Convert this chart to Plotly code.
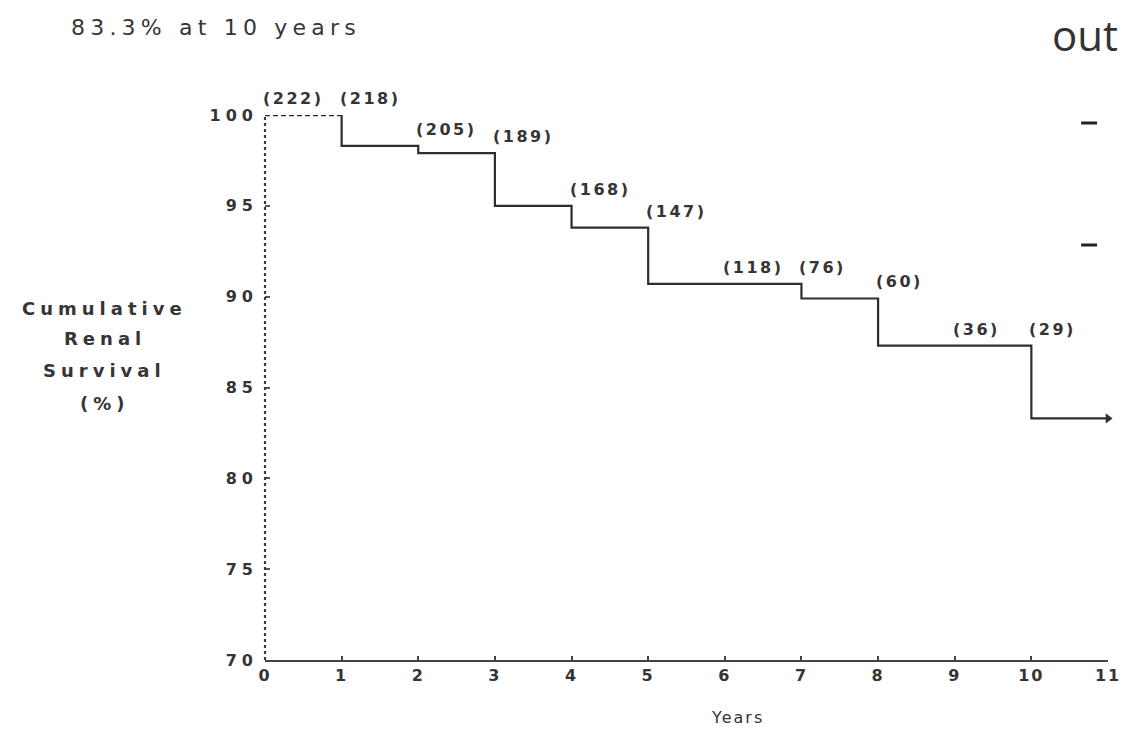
import plotly.graph_objects as go

# Kaplan-Meier style cumulative renal survival
years = [0, 1, 2, 3, 4, 5, 7, 8, 10, 11]
survival = [100, 98.3, 97.9, 95.0, 93.8, 90.7, 89.9, 87.3, 83.3, 83.3]

# patients at risk at the start of each year
risk_years = [0, 1, 2, 3, 4, 5, 6, 7, 8, 9, 10]
at_risk = [222, 218, 205, 189, 168, 147, 118, 76, 60, 36, 29]

x_ticks = list(range(0, 12))
y_ticks = [70, 75, 80, 85, 90, 95, 100]

title_text = "83.3% at 10 years"
y_title_lines = ["Cumulative", "Renal", "Survival", "(%)"]
x_title = "Years"

INK = "#353535"
FONT = "DejaVu Sans"

# plot area in pixels (used to place free text in paper coordinates)
L, R, T, B = 265, 21, 115, 70
W, H = 1133, 730
PW, PH = W - L - R, H - T - B


def px_x(p):
    return (p - L) / PW


def px_y(p):
    return (H - B - p) / PH


def wide(text, spacing):
    return f'<span style="letter-spacing:{spacing}px">{text}</span>'


def level_before(t):
    """Survival on the interval that ends at time t (left limit)."""
    val = survival[0]
    for xv, sv in zip(years, survival):
        if xv < t:
            val = sv
    return val


fig = go.Figure()

# first year drawn dashed, rest of the curve solid
fig.add_trace(go.Scatter(
    x=years[:2], y=survival[:1] * 2, mode="lines",
    line=dict(color="#2a2a2a", width=2.6, dash="5px,3px"),
    hoverinfo="skip", showlegend=False, cliponaxis=False,
))
fig.add_trace(go.Scatter(
    x=[years[1]] + years[1:], y=[survival[0]] + survival[1:],
    mode="lines", line_shape="hv",
    line=dict(color="#2e2e2e", width=2.2),
    hoverinfo="skip", showlegend=False, cliponaxis=False,
))
# arrowhead on the last (censored) segment
fig.add_trace(go.Scatter(
    x=[years[-1]], y=[survival[-1]], mode="markers",
    marker=dict(symbol="triangle-right", size=9, color="#2e2e2e"),
    hoverinfo="skip", showlegend=False, cliponaxis=False,
))

annotations = []
for t, n in zip(risk_years, at_risk):
    annotations.append(dict(
        x=t, y=level_before(t), xref="x", yref="y",
        text=wide(f"({n})", 2.5), showarrow=False,
        xanchor="left", yanchor="bottom", xshift=-4, yshift=5,
        font=dict(family=FONT, size=16, color=INK, weight="bold"),
    ))

annotations.append(dict(
    x=px_x(68), y=px_y(28), xref="paper", yref="paper",
    text=wide(title_text, 5.2), showarrow=False,
    xanchor="left", yanchor="middle",
    font=dict(family=FONT, size=22, color=INK),
))

for line, py in zip(y_title_lines, [308, 338, 370, 403]):
    annotations.append(dict(
        x=px_x(104), y=px_y(py), xref="paper", yref="paper",
        text=wide(line, 5), showarrow=False,
        xanchor="center", yanchor="middle",
        font=dict(family=FONT, size=18, color=INK, weight="bold"),
    ))

annotations.append(dict(
    x=px_x(740), y=px_y(717), xref="paper", yref="paper",
    text=wide(x_title, 2), showarrow=False,
    xanchor="center", yanchor="middle",
    font=dict(family=FONT, size=16, color=INK),
))

annotations.append(dict(
    x=px_x(1054), y=px_y(34), xref="paper", yref="paper",
    text="out", showarrow=False, xanchor="left", yanchor="middle",
    font=dict(family="Open Sans", size=42, color="#333333"),
))

shapes = [
    # dotted vertical axis along the left edge of the plot area
    dict(type="line", xref="paper", yref="paper", x0=0, x1=0, y0=0, y1=1,
         line=dict(color="#3a3a3a", width=2.2, dash="3px,3px")),
    # bullet dashes at the right edge
    dict(type="line", xref="paper", yref="paper", x0=px_x(1085), x1=px_x(1101),
         y0=px_y(123), y1=px_y(123), line=dict(color="#222222", width=3)),
    dict(type="line", xref="paper", yref="paper", x0=px_x(1085), x1=px_x(1101),
         y0=px_y(245), y1=px_y(245), line=dict(color="#222222", width=3)),
]

fig.update_layout(
    width=W, height=H,
    margin=dict(l=L, r=R, t=T, b=B),
    paper_bgcolor="white", plot_bgcolor="white",
    annotations=annotations, shapes=shapes,
    showlegend=False,
)

fig.update_xaxes(
    range=[0, 11], tickmode="array", tickvals=x_ticks,
    ticktext=[wide(str(v), 2) for v in x_ticks],
    showgrid=False, zeroline=False,
    showline=True, linecolor="#444444", linewidth=2,
    ticks="inside", ticklen=4, tickcolor="#444444", tickwidth=2,
    tickfont=dict(family=FONT, size=16, color=INK, weight="bold"),
)
fig.update_yaxes(
    range=[70, 100], tickmode="array", tickvals=y_ticks,
    ticktext=[wide(str(v), 5) for v in y_ticks],
    showgrid=False, zeroline=False, showline=False,
    ticks="inside", ticklen=5, tickcolor="#555555", tickwidth=2,
    ticklabelstandoff=6,
    tickfont=dict(family=FONT, size=16, color=INK, weight="bold"),
)

fig.write_html("out.html")
